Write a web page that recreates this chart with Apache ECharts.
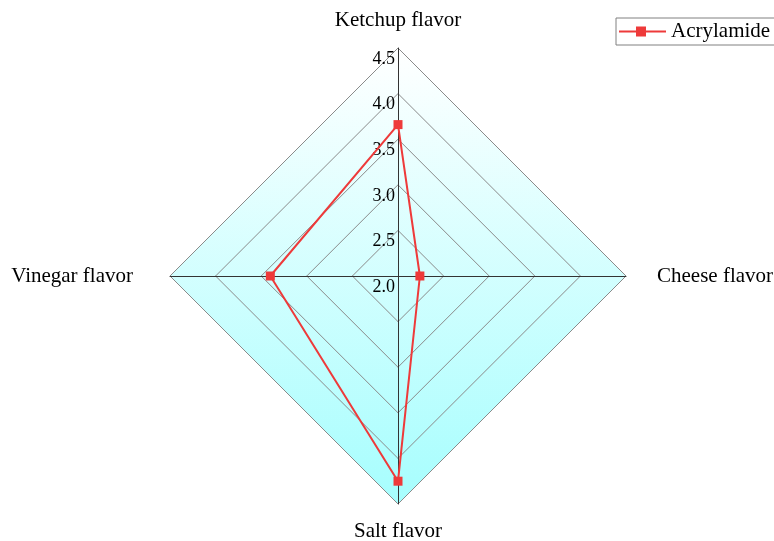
<!DOCTYPE html>
<html>
<head>
<meta charset="utf-8">
<script src="https://cdn.jsdelivr.net/npm/echarts@6/dist/echarts.min.js"></script>
<style>
  html, body { margin: 0; padding: 0; background: #ffffff; }
  #chart { width: 774px; height: 541px; }
</style>
</head>
<body>
<div id="chart"></div>
<script>
// Flavour profile for acrylamide, one value per spoke
const flavors = ['Ketchup flavor', 'Vinegar flavor', 'Salt flavor', 'Cheese flavor'];
const acrylamide = [3.66, 3.40, 4.25, 2.24];
const seriesName = 'Acrylamide';
const scaleMin = 2.0;
const scaleMax = 4.5;
const scaleStep = 0.5;
const tickLabels = ['2.0', '2.5', '3.0', '3.5', '4.0', '4.5'];

const cx = 398, cy = 276, R = 228;
const serif = '"Liberation Serif", "Times New Roman", serif';

const chart = echarts.init(document.getElementById('chart'), null, { renderer: 'canvas' });

const fill = {
  type: 'linear', x: 0, y: cy - R, x2: 0, y2: cy + R, global: true,
  colorStops: [
    { offset: 0, color: '#ffffff' },
    { offset: 1, color: '#a6fefe' }
  ]
};

// extra spacing for the side labels so they sit further out than top/bottom
const nameStyle = {
  'Vinegar flavor': 'left',
  'Cheese flavor': 'right'
};

chart.setOption({
  animation: false,
  textStyle: { fontFamily: serif },
  legend: {
    data: [{ name: seriesName, icon: 'path://M0,4H47V6H0Z M17,0H27V10H17Z' }],
    left: 616,
    top: 18,
    padding: [3, 10, 3, 3],
    itemWidth: 47,
    itemHeight: 10,
    itemGap: 0,
    borderColor: '#808080',
    borderWidth: 1,
    textStyle: { fontFamily: serif, fontSize: 21, color: '#000' }
  },
  radar: {
    center: [cx, cy],
    radius: R,
    shape: 'polygon',
    splitNumber: 5,
    startAngle: 90,
    indicator: flavors.map(n => ({ name: n, min: scaleMin, max: scaleMax })),
    axisName: {
      color: '#000',
      fontFamily: serif,
      fontSize: 21,
      formatter: n => nameStyle[n] ? '{' + nameStyle[n] + '|' + n + '}' : n,
      rich: {
        left: { fontFamily: serif, fontSize: 21, color: '#000', padding: [0, 20, 0, 0] },
        right: { fontFamily: serif, fontSize: 21, color: '#000', padding: [0, 0, 0, 14] }
      }
    },
    nameGap: 17,
    axisLine: { lineStyle: { color: '#333333', width: 1 } },
    axisTick: { show: false },
    axisLabel: { show: false },
    splitLine: { lineStyle: { color: '#8a8a8a', width: 1 } },
    splitArea: { show: true, areaStyle: { color: [fill] } }
  },
  grid: {
    left: 0,
    width: cx,
    top: cy - R,
    height: R
  },
  xAxis: { type: 'value', show: false },
  yAxis: {
    type: 'value',
    position: 'right',
    min: scaleMin,
    max: scaleMax,
    interval: scaleStep,
    axisLine: { show: false },
    axisTick: { show: false },
    splitLine: { show: false },
    axisLabel: {
      inside: true,
      margin: 3,
      verticalAlign: 'top',
      padding: [2, 0, 0, 0],
      fontFamily: serif,
      fontSize: 18,
      color: '#000',
      formatter: v => tickLabels[Math.round((v - scaleMin) / scaleStep)] ?? ''
    }
  },
  series: [{
    name: seriesName,
    type: 'radar',
    symbol: 'rect',
    symbolSize: 9,
    itemStyle: { color: '#ee3a3a' },
    lineStyle: { color: '#ee3a3a', width: 2 },
    data: [{ name: seriesName, value: acrylamide }]
  }]
});
</script>
</body>
</html>
